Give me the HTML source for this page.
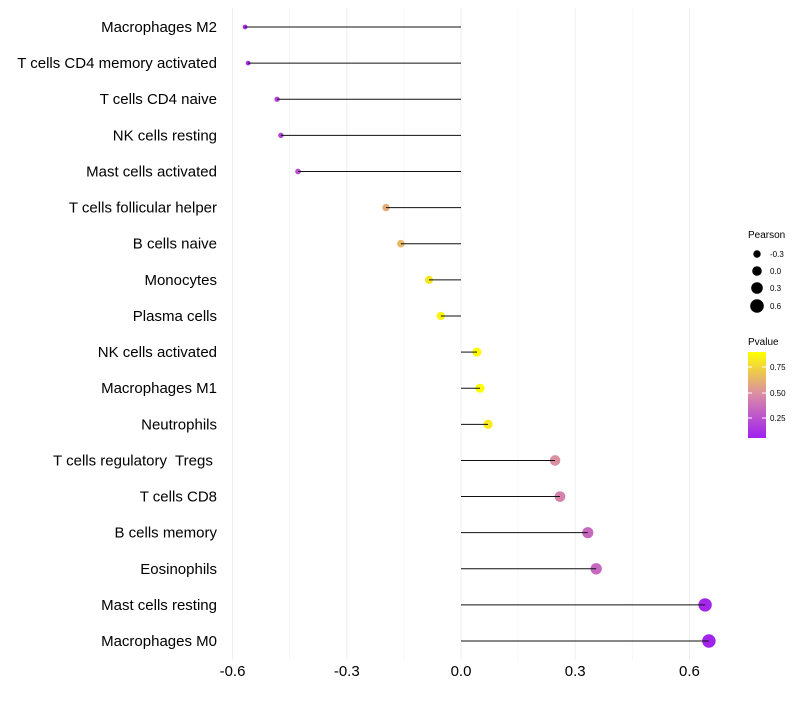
<!DOCTYPE html>
<html><head><meta charset="utf-8"><style>
body{margin:0;background:#fff;font-family:"Liberation Sans",sans-serif}
</style></head><body>
<svg id="chart" width="800" height="700" xmlns="http://www.w3.org/2000/svg" font-family="Liberation Sans, sans-serif">
<defs><linearGradient id="pg" x1="0" y1="1" x2="0" y2="0">
<stop offset="0" stop-color="#A020F0"/><stop offset="0.5" stop-color="#D98AA8"/><stop offset="1" stop-color="#FFFF00"/>
</linearGradient></defs>
<g id="grid"></g><g id="points"></g><g id="marks"></g><g id="labels"></g>
<g>
<text x="748" y="238" font-size="10">Pearson</text>
<circle cx="757" cy="254" r="3.7"/><text x="770" y="257" font-size="8">-0.3</text>
<circle cx="757" cy="271" r="4.8"/><text x="770" y="274" font-size="8">0.0</text>
<circle cx="757" cy="288" r="5.8"/><text x="770" y="291" font-size="8">0.3</text>
<circle cx="757" cy="306" r="6.8"/><text x="770" y="309" font-size="8">0.6</text>
<text x="748" y="345" font-size="10">Pvalue</text>
<rect x="748" y="352" width="18" height="86" fill="url(#pg)"/>
<g stroke="#fff" stroke-width="1"><line x1="748" y1="367" x2="752" y2="367"/><line x1="762" y1="367" x2="766" y2="367"/><line x1="748" y1="393" x2="752" y2="393"/><line x1="762" y1="393" x2="766" y2="393"/><line x1="748" y1="418" x2="752" y2="418"/><line x1="762" y1="418" x2="766" y2="418"/></g>
<text x="770" y="370" font-size="8">0.75</text><text x="770" y="396" font-size="8">0.50</text><text x="770" y="421" font-size="8">0.25</text>
</g>
</svg>
<script>
const categories=["Macrophages M2","T cells CD4 memory activated","T cells CD4 naive","NK cells resting","Mast cells activated","T cells follicular helper","B cells naive","Monocytes","Plasma cells","NK cells activated","Macrophages M1","Neutrophils","T cells regulatory  Tregs ","T cells CD8","B cells memory","Eosinophils","Mast cells resting","Macrophages M0"];
const pearson=[-0.567,-0.559,-0.483,-0.473,-0.428,-0.197,-0.158,-0.084,-0.053,0.042,0.05,0.071,0.247,0.26,0.333,0.355,0.641,0.651];
const pvalues=[0.1,0.12,0.2,0.2,0.25,0.6,0.64,0.8,0.85,0.88,0.88,0.82,0.5,0.45,0.35,0.35,0.1,0.08];
const xTicks=[-0.6,-0.3,0.0,0.3,0.6];
const xTickLabels=["-0.6","-0.3","0.0","0.3","0.6"];
const NS="http://www.w3.org/2000/svg";
const x=v=>461+v*380.8;
const y=i=>27+i*36.12;
const r=v=>4.4+3.6*v;
function lerp(a,b,t){return a.map((c,k)=>Math.round(c+(b[k]-c)*t));}
function col(p){const t=Math.max(0,Math.min(1,(p-0.07)/0.82));const s=[[160,32,240],[217,138,168],[255,255,0]];
const c=t<0.5?lerp(s[0],s[1],t*2):lerp(s[1],s[2],(t-0.5)*2);return `rgb(${c})`;}
function mk(tag,attrs,parent){const e=document.createElementNS(NS,tag);for(const k in attrs)e.setAttribute(k,attrs[k]);document.getElementById(parent).appendChild(e);return e;}
const grid=[];
for(let i=0;i<xTicks.length;i++){grid.push([xTicks[i],1]);if(i<xTicks.length-1)grid.push([(xTicks[i]+xTicks[i+1])/2,0.5]);}
grid.forEach(g=>{const l=mk('line',{x1:x(g[0]),x2:x(g[0]),y1:8,y2:660,stroke:g[1]==1?'#efefef':'#f6f6f6','stroke-width':1},'grid');

});
xTicks.forEach((t,i)=>{const tx=mk('text',{x:x(t),y:676,'font-size':15,'text-anchor':'middle',fill:'#000'},'labels');tx.textContent=xTickLabels[i];

});
categories.forEach((c,i)=>{
const t=mk('text',{x:217,y:y(i)+5,'font-size':15,'text-anchor':'end',fill:'#000','xml:space':'preserve',style:'white-space:pre'},'labels');t.textContent=c;


const p=mk('circle',{cx:x(pearson[i]),cy:y(i),r:r(pearson[i]),fill:col(pvalues[i])},'points');


const l=mk('line',{x1:x(0),x2:x(pearson[i]),y1:y(i),y2:y(i),stroke:'#111','stroke-width':1},'marks');


});
</script>
</body></html>
